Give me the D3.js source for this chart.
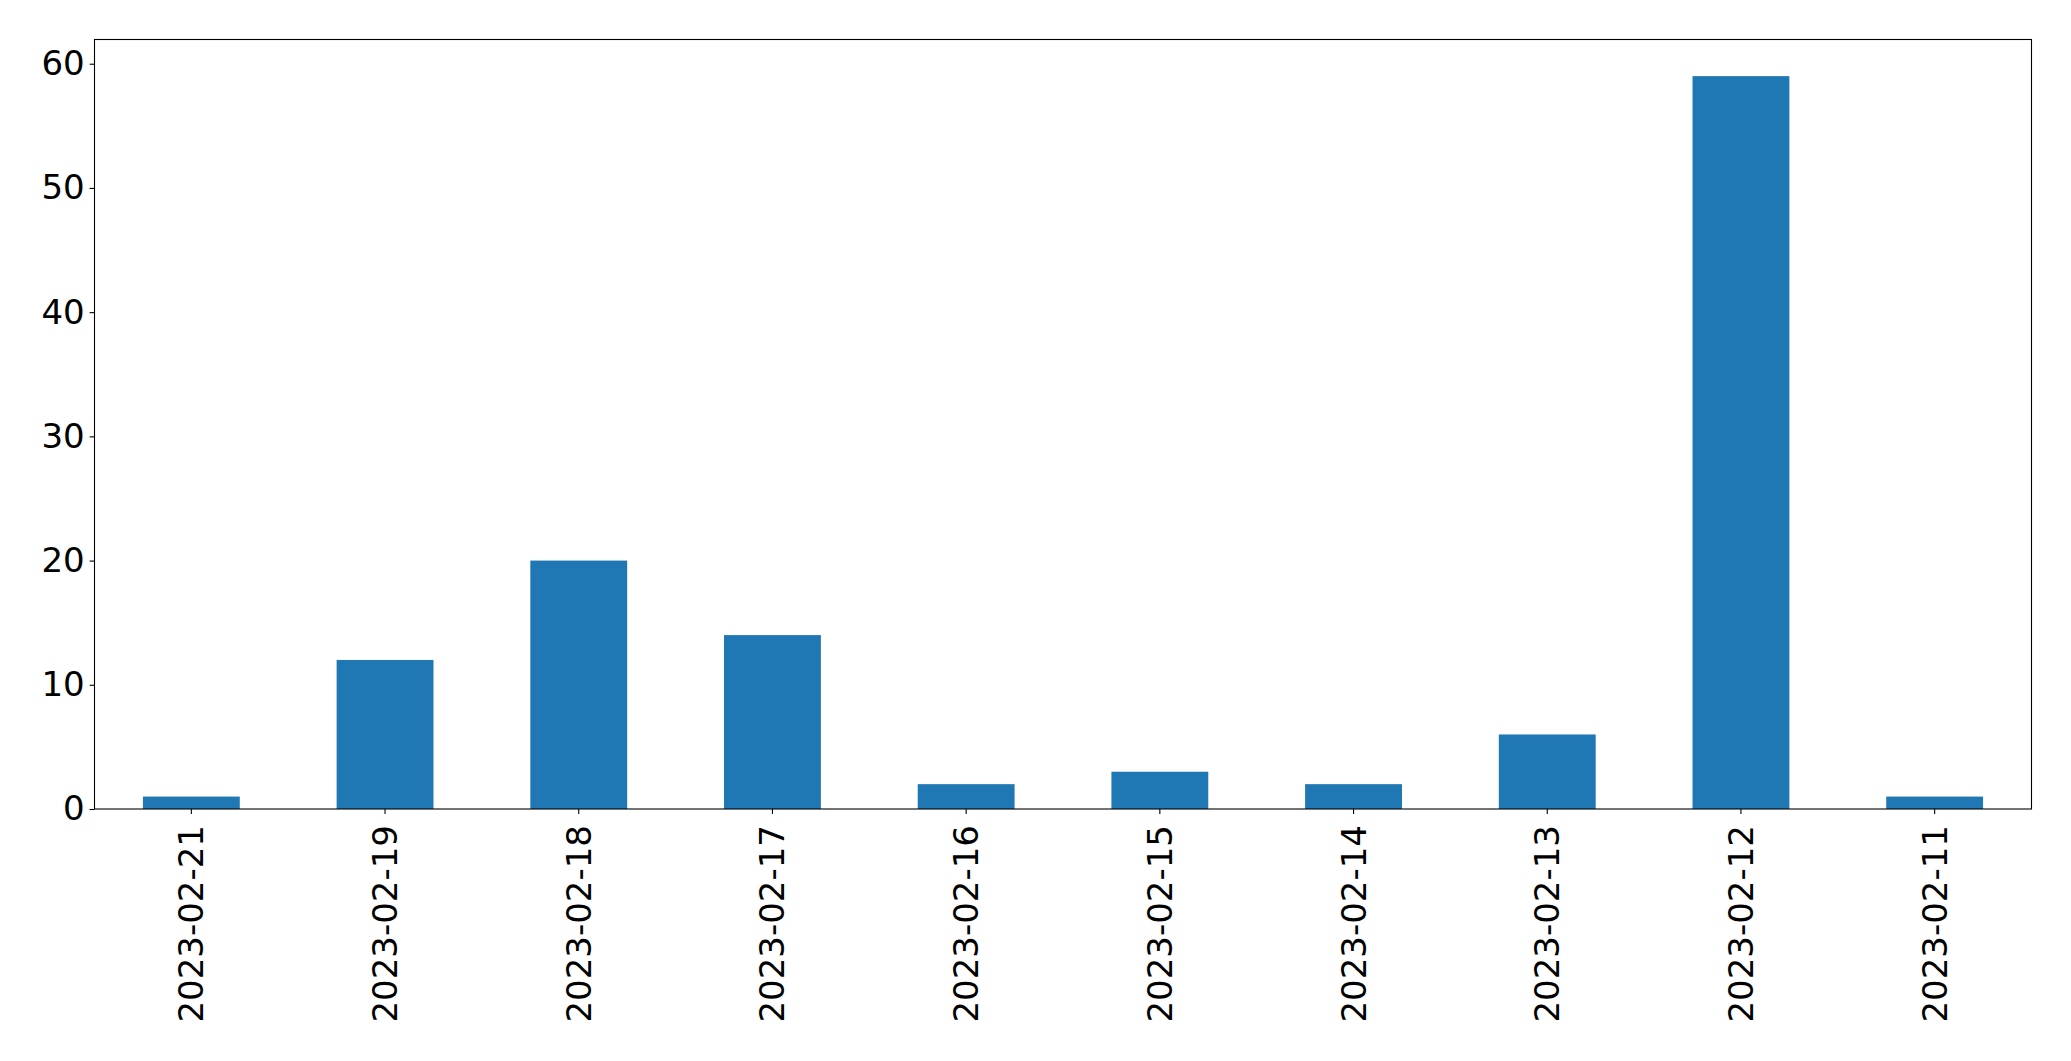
<!DOCTYPE html>
<html>
<head>
<meta charset="utf-8">
<script src="https://cdn.jsdelivr.net/npm/d3@7"></script>
<style>
  html, body { margin: 0; padding: 0; background: #fff; }
  svg { display: block; }
  text { font-family: "DejaVu Sans", sans-serif; }
</style>
</head>
<body>
<svg id="chart" width="2071" height="1061"></svg>
<script>
const categories = ["2023-02-21", "2023-02-19", "2023-02-18", "2023-02-17", "2023-02-16",
                    "2023-02-15", "2023-02-14", "2023-02-13", "2023-02-12", "2023-02-11"];
const values = [1, 12, 20, 14, 2, 3, 2, 6, 59, 1];
const yTicks = [0, 10, 20, 30, 40, 50, 60];

const W = 2071, H = 1061;
const margin = { left: 94.5, right: W - 2031.5, top: 39.5, bottom: H - 809 };
const iw = W - margin.left - margin.right;
const ih = H - margin.top - margin.bottom;

const svg = d3.select("#chart");
const g = svg.append("g").attr("transform", `translate(${margin.left},${margin.top})`);

const x = d3.scaleBand().domain(categories).range([0, iw]).paddingInner(0.5).paddingOuter(0.25);
const yMax = d3.max(values) * 1.05;
const y = d3.scaleLinear().domain([0, yMax]).range([ih, 0]);

g.selectAll("rect.bar").data(values).enter().append("rect")
  .attr("class", "bar")
  .attr("x", (d, i) => x(categories[i]))
  .attr("width", x.bandwidth())
  .attr("y", d => y(d))
  .attr("height", d => ih - y(d))
  .attr("fill", "#1f77b4");

const fs = 34;

// Y axis
const yAxis = d3.axisLeft(y).tickValues(yTicks).tickSize(4.9).tickPadding(4.9).tickFormat(d3.format("d"));
const ya = g.append("g").call(yAxis);
ya.select(".domain").remove();
ya.selectAll(".tick line").attr("stroke", "#000").attr("stroke-width", 1.1);
ya.selectAll(".tick text").attr("font-size", fs).attr("fill", "#000")
  .attr("font-family", "DejaVu Sans, sans-serif");

// X axis
const xAxis = d3.axisBottom(x).tickSize(4.9).tickPadding(0);
const xa = g.append("g").attr("transform", `translate(0,${ih})`).call(xAxis);
xa.select(".domain").remove();
xa.selectAll(".tick line").attr("stroke", "#000").attr("stroke-width", 1.1);
xa.selectAll(".tick text")
  .attr("font-size", fs).attr("fill", "#000")
  .attr("font-family", "DejaVu Sans, sans-serif")
  .attr("text-anchor", "end")
  .attr("dy", null)
  .attr("y", null)
  .attr("dominant-baseline", "central")
  .attr("transform", "translate(0,16) rotate(-90)");

// Frame
g.append("rect").attr("x", 0).attr("y", 0).attr("width", iw).attr("height", ih)
  .attr("fill", "none").attr("stroke", "#000").attr("stroke-width", 1.1);
</script>
</body>
</html>
